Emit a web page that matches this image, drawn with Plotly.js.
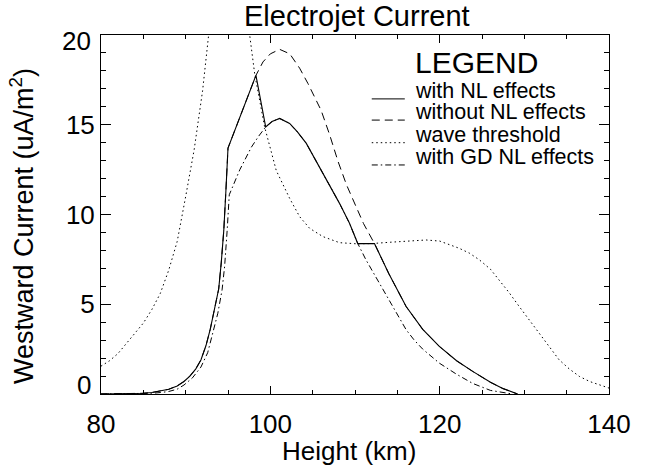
<!DOCTYPE html>
<html>
<head>
<meta charset="utf-8">
<script src="https://cdn.plot.ly/plotly-3.0.1.min.js"></script>
<style>
  html, body { margin: 0; padding: 0; background: #fff; }
  #chart { width: 662px; height: 474px; }
</style>
</head>
<body>
<div id="chart"></div>
<script>
// ---- Data ----
// without NL effects (dashed)
var heightNoNL = [80, 82, 84, 85, 86, 87, 88, 89, 89.8, 90.5, 91.2, 91.8, 92.4, 92.9, 93.4, 93.9, 94.2, 94.5, 94.75, 95.0,
  98.3, 99.13, 100, 101.1, 102.3, 103.46, 104.44, 105, 106, 107, 108, 109, 110, 111, 112.3,
  114, 116.04, 118, 119.96, 122, 123.9, 126, 127.5, 129.2];
var currentNoNL = [0, 0.005, 0.02, 0.04, 0.08, 0.15, 0.26, 0.45, 0.7, 1.0, 1.4, 1.9, 2.7, 3.6, 4.7, 5.85, 7.3, 9.1, 11.3, 13.7,
  17.75, 18.5, 18.95, 19.2, 18.95, 18.15, 17.3, 16.75, 15.8, 14.45, 12.95, 11.65, 10.55, 9.5, 8.38,
  6.7, 4.87, 3.6, 2.65, 1.85, 1.26, 0.65, 0.3, 0];

// with NL effects (solid)
var heightNL = [80, 82, 84, 85, 86, 87, 88, 89, 89.8, 90.5, 91.2, 91.8, 92.4, 92.9, 93.4, 93.9, 94.2, 94.5, 94.75, 95.0,
  98.3, 99.45, 100.2, 101.1, 102.28, 103.2, 104.25, 105.2, 106.2, 107.2, 108.17, 109.35, 110.33, 112.3,
  114, 116.04, 118, 119.96, 122, 123.9, 126, 127.5, 129.2];
var currentNL = [0, 0.005, 0.02, 0.04, 0.08, 0.15, 0.26, 0.45, 0.7, 1.0, 1.4, 1.9, 2.7, 3.6, 4.7, 5.85, 7.3, 9.1, 11.3, 13.7,
  17.75, 14.88, 15.18, 15.35, 15.07, 14.6, 13.96, 13.15, 12.29, 11.45, 10.62, 9.51, 8.38, 8.38,
  6.7, 4.87, 3.6, 2.65, 1.85, 1.26, 0.65, 0.3, 0];

// wave threshold (dotted)
var heightThr = [80, 81, 82, 83, 84, 85, 86, 87, 88, 89, 90, 91, 92, 92.8, 93.4,
  97.1, 97.56, 98.15, 99.33, 100.7, 102.28, 103.46, 104.64, 106.2, 108.17, 110.1, 112, 114, 116, 118.4,
  120, 121, 122.3, 123.5, 124.7, 126, 127, 128.2, 129.4, 130.6, 131.75, 133, 134.1, 135.3, 136.5, 137.7, 138.8, 140];
var currentThr = [1.55, 1.85, 2.25, 2.8, 3.35, 3.95, 4.7, 5.6, 6.9, 8.5, 11.0, 13.6, 16.9, 20, 23,
  23, 20, 17.84, 14.87, 12.45, 10.9, 9.88, 9.23, 8.77, 8.43, 8.37, 8.38, 8.45, 8.52, 8.58,
  8.52, 8.35, 8.12, 7.85, 7.47, 6.95, 6.36, 5.65, 4.87, 4.1, 3.39, 2.6, 1.91, 1.4, 0.98, 0.7, 0.52, 0.33];

// with GD NL effects (dash-dot)
var heightGD = [80, 84, 85, 86, 87, 88, 89, 89.8, 90.8, 91.8, 92.6, 93.3, 93.8, 94.3, 94.6, 94.9, 95.15, 96.4, 97.76, 98.6, 99.45,
  100.2, 101.1, 102.28, 103.2, 104.25, 105.2, 106.2, 107.2, 108.17, 109.35, 110.33,
  111.3, 112, 113, 114, 115, 116.04, 117, 118, 119.96, 122, 123.9, 126, 128.6];
var currentGD = [0, 0.01, 0.02, 0.04, 0.08, 0.14, 0.27, 0.5, 0.9, 1.5, 2.3, 3.55, 4.5, 5.8, 7.1, 9.1, 11.1, 12.5, 13.75, 14.35, 14.88,
  15.18, 15.35, 15.07, 14.6, 13.96, 13.15, 12.29, 11.45, 10.62, 9.51, 8.38,
  7.47, 6.9, 6.05, 5.25, 4.4, 3.58, 3.0, 2.5, 1.72, 1.1, 0.59, 0.2, 0];

// tick labels
var xTickVals = [80, 100, 120, 140];
var xTickText = ['80', '100', '120', '140'];
var yTickVals = [5, 10, 15];
var yTickText = ['5', '10', '15'];
var yEdgeTickVals = [0, 20];
var yEdgeTickText = ['0', '20'];

var legendLabels = ['with NL effects', 'without NL effects', 'wave threshold', 'with GD NL effects'];
var legendDashes = ['solid', '8px,5px', '1.5px,3px', '6px,3px,1.5px,3px'];

var FONT = 'Liberation Sans, Arial, Helvetica, sans-serif';

var traces = [
  {x: heightNoNL, y: currentNoNL, mode: 'lines', line: {color: 'black', width: 1, dash: legendDashes[1]}, name: legendLabels[1]},
  {x: heightThr, y: currentThr, mode: 'lines', line: {color: 'black', width: 1, dash: legendDashes[2]}, name: legendLabels[2]},
  {x: heightGD, y: currentGD, mode: 'lines', line: {color: 'black', width: 1, dash: legendDashes[3]}, name: legendLabels[3]},
  {x: heightNL, y: currentNL, mode: 'lines', line: {color: 'black', width: 1.1, dash: legendDashes[0]}, name: legendLabels[0]},
  // empty helper trace so the mirrored (top/right) tick axes are drawn
  {x: [], y: [], xaxis: 'x2', yaxis: 'y2', mode: 'lines', hoverinfo: 'skip', showlegend: false}
];

// legend drawn as annotations + sample line shapes (paper coordinates)
var legX0 = 0.533, legX1 = 0.598, legTextX = 0.614;
var legRowY = [0.822, 0.763, 0.700, 0.638];
var legTextY = [0.843, 0.785, 0.721, 0.661];
var annotations = [{
  xref: 'paper', yref: 'paper', x: legTextX, y: 0.923, xanchor: 'left', yanchor: 'middle',
  text: 'LEGEND', showarrow: false, font: {family: FONT, size: 30, color: 'black'}
}];
var shapes = [];
for (var i = 0; i < legendLabels.length; i++) {
  annotations.push({
    xref: 'paper', yref: 'paper', x: legTextX, y: legTextY[i], xanchor: 'left', yanchor: 'middle',
    text: legendLabels[i], showarrow: false, font: {family: FONT, size: 21.5, color: 'black'}
  });
  shapes.push({
    type: 'line', xref: 'paper', yref: 'paper', x0: legX0, x1: legX1, y0: legRowY[i], y1: legRowY[i],
    line: {color: 'black', width: 1, dash: legendDashes[i]}
  });
}
// y edge tick labels (0 and 20 sit inside the frame in the reference)
var edgeShift = [9, -6];
for (var j = 0; j < yEdgeTickVals.length; j++) {
  annotations.push({
    xref: 'paper', yref: 'y', x: -0.0157, y: yEdgeTickVals[j], xanchor: 'right', yanchor: 'middle',
    yshift: edgeShift[j], text: yEdgeTickText[j], showarrow: false,
    font: {family: FONT, size: 26, color: 'black'}
  });
}
// axis titles
annotations.push({
  xref: 'paper', yref: 'paper', x: 0.488, y: -0.158, xanchor: 'center', yanchor: 'middle',
  text: 'Height (km)', showarrow: false, font: {family: FONT, size: 26, color: 'black'}
});
annotations.push({
  xref: 'paper', yref: 'paper', x: -0.1555, y: 0.468, xanchor: 'center', yanchor: 'middle', textangle: -90,
  text: 'Westward Current (uA/m<sup>2</sup>)', showarrow: false, font: {family: FONT, size: 27, color: 'black'}
});

var tickCommon = {ticks: 'inside', tickwidth: 1, tickcolor: 'black', showgrid: false, zeroline: false,
  showline: true, linecolor: 'black', linewidth: 1};

var layout = {
  width: 662, height: 474,
  margin: {l: 101, r: 53, t: 35, b: 80, pad: 0},
  paper_bgcolor: 'white', plot_bgcolor: 'white',
  showlegend: false,
  font: {family: FONT, color: 'black'},
  title: {text: 'Electrojet Current', font: {family: FONT, size: 29, color: 'black'},
          xref: 'container', x: 0.539, xanchor: 'center', yref: 'container', y: 0.967, yanchor: 'middle'},
  xaxis: Object.assign({}, tickCommon, {
    range: [80, 140], tickvals: xTickVals, ticktext: xTickText, ticklen: 8,
    minor: {dtick: 5, tick0: 80, ticks: 'inside', ticklen: 4, tickwidth: 1, tickcolor: 'black'},
    mirror: true, ticklabelstandoff: 7,
    tickfont: {family: FONT, size: 26, color: 'black'}
  }),
  yaxis: Object.assign({}, tickCommon, {
    range: [0, 20], tickvals: yTickVals, ticktext: yTickText, ticklen: 10,
    minor: {dtick: 1, tick0: 0, ticks: 'inside', ticklen: 5, tickwidth: 1, tickcolor: 'black'},
    mirror: true,
    tickfont: {family: FONT, size: 26, color: 'black'}
  }),
  xaxis2: Object.assign({}, tickCommon, {
    overlaying: 'x', matches: 'x', side: 'top', anchor: 'y2', range: [80, 140], dtick: 20, tick0: 80, ticklen: 8,
    minor: {dtick: 5, tick0: 80, ticks: 'inside', ticklen: 4, tickwidth: 1, tickcolor: 'black'},
    showticklabels: false
  }),
  yaxis2: Object.assign({}, tickCommon, {
    overlaying: 'y', matches: 'y', side: 'right', anchor: 'x2', range: [0, 20], dtick: 5, tick0: 0, ticklen: 10,
    minor: {dtick: 1, tick0: 0, ticks: 'inside', ticklen: 5, tickwidth: 1, tickcolor: 'black'},
    showticklabels: false
  }),
  annotations: annotations,
  shapes: shapes
};

Plotly.newPlot('chart', traces, layout, {staticPlot: true, displayModeBar: false});
</script>
</body>
</html>
